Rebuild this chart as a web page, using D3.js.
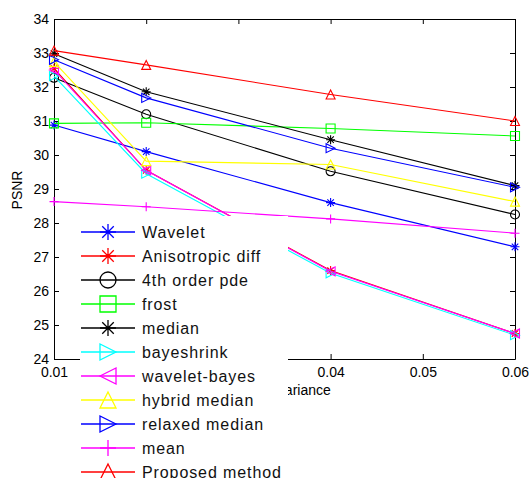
<!DOCTYPE html>
<html lang="en">
<head>
<meta charset="UTF-8">
<title>PSNR vs noise variance</title>
<script src="https://d3js.org/d3.v7.min.js"></script>
<style>
    body { margin: 0; background: #fff; }
    svg { display: block; font-family: "Liberation Sans", Arial, sans-serif; }
    .axis path, .axis line { stroke: #000; stroke-width: 1px; }
    .axis text { fill: #000; font-size: 14px; }
    .legend-text { font-size: 16px; letter-spacing: 0.9px; fill: #111; }
</style>
</head>
<body>
<div id="chart"></div>
<script>
// noise variance levels (x)
const variances = [0.01, 0.02, 0.04, 0.06];

// PSNR per method
const wavelet      = [30.88, 30.10, 28.60, 27.30];
const anisotropic  = [32.55, 29.55, 26.60, 24.75];
const fourthPde    = [32.27, 31.20, 29.52, 28.25];
const frost        = [30.93, 30.95, 30.78, 30.56];
const median       = [32.98, 31.86, 30.45, 29.10];
const bayeshrink   = [32.32, 29.45, 26.52, 24.70];
const waveletBayes = [32.50, 29.55, 26.58, 24.75];
const hybridMedian = [32.74, 29.82, 29.72, 28.63];
const relaxed      = [32.80, 31.68, 30.20, 29.05];
const mean         = [28.63, 28.48, 28.12, 27.70];
const proposed     = [33.07, 32.65, 31.78, 31.00];

const seriesNames = ["Wavelet", "Anisotropic diff", "4th order pde", "frost", "median",
    "bayeshrink", "wavelet-bayes", "hybrid median", "relaxed median", "mean", "Proposed method"];
const seriesValues = [wavelet, anisotropic, fourthPde, frost, median,
    bayeshrink, waveletBayes, hybridMedian, relaxed, mean, proposed];
const seriesColors = ["#0000ff", "#ff0000", "#000000", "#00ff00", "#000000",
    "#00ffff", "#ff00ff", "#ffff00", "#0000ff", "#ff00ff", "#ff0000"];
const seriesMarkers = ["*", "*", "o", "s", "*", ">", "<", "^", ">", "+", "^"];

const xTicks = [0.01, 0.02, 0.03, 0.04, 0.05, 0.06];
const yTicks = [24, 25, 26, 27, 28, 29, 30, 31, 32, 33, 34];

const W = 529, H = 478;
const margin = {top: 19, right: 14, bottom: 119, left: 54};
const width = W - margin.left - margin.right;
const height = H - margin.top - margin.bottom;

const svg = d3.select("#chart").append("svg")
    .attr("width", W).attr("height", H);

const g = svg.append("g")
    .attr("transform", `translate(${margin.left},${margin.top})`);

const x = d3.scaleLinear().domain([0.01, 0.06]).range([0, width]);
const y = d3.scaleLinear().domain([24, 34]).range([height, 0]);

// matlab-like marker shapes, s = full size
function markerPath(type, s) {
    const h = s / 2;
    switch (type) {
        case "*": {
            const d = h * 0.72;
            return `M${-h},0L${h},0M0,${-h}L0,${h}M${-d},${-d}L${d},${d}M${-d},${d}L${d},${-d}`;
        }
        case "+": return `M${-h},0L${h},0M0,${-h}L0,${h}`;
        case "o": return d3.arc()({innerRadius: 0, outerRadius: h, startAngle: 0, endAngle: 2 * Math.PI});
        case "s": return `M${-h},${-h}L${h},${-h}L${h},${h}L${-h},${h}Z`;
        case "^": return `M0,${-h}L${h},${h}L${-h},${h}Z`;
        case ">": return `M${h},0L${-h},${-h}L${-h},${h}Z`;
        case "<": return `M${-h},0L${h},${-h}L${h},${h}Z`;
    }
    return "";
}

// axes (ticks point inward like matlab)
g.append("g").attr("class", "axis")
    .call(d3.axisLeft(y).tickValues(yTicks).tickSize(-5).tickSizeOuter(0).tickPadding(5).tickFormat(d3.format("d")));
g.append("g").attr("class", "axis")
    .attr("transform", `translate(${width},0)`)
    .call(d3.axisRight(y).tickValues(yTicks).tickSize(-5).tickSizeOuter(0).tickFormat(""));
g.append("g").attr("class", "axis")
    .call(d3.axisTop(x).tickValues(xTicks).tickSize(-5).tickSizeOuter(0).tickFormat(""));
g.append("g").attr("class", "axis")
    .attr("transform", `translate(0,${height})`)
    .call(d3.axisBottom(x).tickValues(xTicks).tickSize(-5).tickSizeOuter(0).tickPadding(8).tickFormat(d3.format(".2f")));

g.append("text")
    .attr("transform", "rotate(-90)")
    .attr("x", -171)
    .attr("y", -32)
    .attr("text-anchor", "middle")
    .style("font-size", "14px")
    .text("PSNR");

g.append("text")
    .attr("x", width / 2)
    .attr("y", height + 36)
    .attr("text-anchor", "middle")
    .style("font-size", "14px")
    .text("Noise variance");

// lines + markers
const line = d3.line().x((d, i) => x(variances[i])).y(d => y(d));

seriesValues.forEach((vals, k) => {
    const sg = g.append("g");
    sg.append("path")
        .attr("d", line(vals))
        .attr("fill", "none")
        .attr("stroke", seriesColors[k])
        .attr("stroke-width", 1.1);
    sg.selectAll("path.mk")
        .data(vals)
        .join("path")
        .attr("class", "mk")
        .attr("transform", (d, i) => `translate(${x(variances[i])},${y(d)})`)
        .attr("d", markerPath(seriesMarkers[k], 9))
        .attr("fill", "none")
        .attr("stroke", seriesColors[k])
        .attr("stroke-width", 1.1);
});

// legend (white background, no border)
const legend = svg.append("g");
legend.append("rect")
    .attr("x", 80).attr("y", 216)
    .attr("width", 208).attr("height", H - 216)
    .attr("fill", "#fff");

seriesNames.forEach((name, k) => {
    const cy = 232 + k * 24;
    const row = legend.append("g").attr("transform", `translate(0,${cy})`);
    row.append("line")
        .attr("x1", 81).attr("x2", 135)
        .attr("stroke", seriesColors[k]).attr("stroke-width", 1.3);
    row.append("path")
        .attr("transform", "translate(108,0)")
        .attr("d", markerPath(seriesMarkers[k], 16))
        .attr("fill", "none")
        .attr("stroke", seriesColors[k])
        .attr("stroke-width", 1.3);
    row.append("text")
        .attr("class", "legend-text")
        .attr("x", 142)
        .attr("dy", "0.35em")
        .text(name);
});
</script>
</body>
</html>
